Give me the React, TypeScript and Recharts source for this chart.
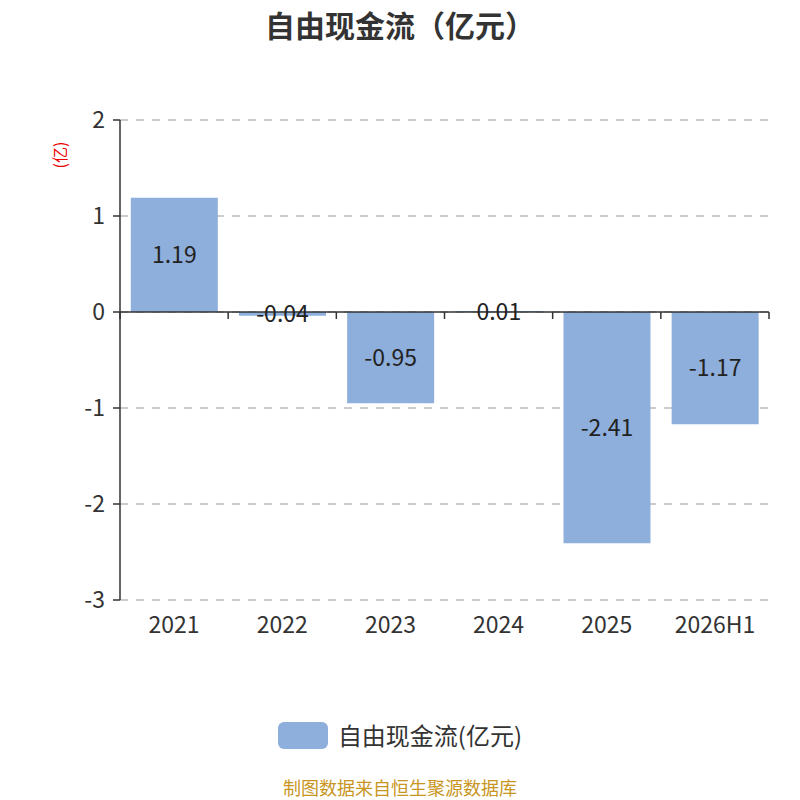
import React from 'react';
import { BarChart, Bar, XAxis, YAxis, CartesianGrid, ReferenceLine, LabelList } from 'recharts';

const categories = ['2021', '2022', '2023', '2024', '2025', '2026H1'];
const cashFlow = [1.19, -0.04, -0.95, 0.01, -2.41, -1.17];
const yTicks = [2, 1, 0, -1, -2, -3];

const seriesName = '自由现金流(亿元)';
const barColor = '#8eaedb';
const font = '"Noto Sans CJK SC", "Noto Sans", sans-serif';

const chartData = categories.map((year, i) => ({ year, value: cashFlow[i] }));

// zero line with small tick marks at category boundaries
const ZeroAxis = (props: any) => {
    const { x1, y1, x2 } = props;
    const n = categories.length;
    const step = (x2 - x1) / n;
    const marks = [];
    for (let i = 0; i <= n; i++) {
        const x = x1 + step * i;
        marks.push(<line key={i} x1={x} y1={y1} x2={x} y2={y1 + 7} stroke="#333" strokeWidth={1.5} />);
    }
    return (
        <g>
            <line x1={x1} y1={y1} x2={x2} y2={y1} stroke="#333" strokeWidth={1.5} />
            {marks}
        </g>
    );
};

export default function App() {
    return (
        <div style={{ position: 'absolute', left: 0, top: 0, width: 800, height: 800, background: '#fff', fontFamily: font }}>
            <div style={{ position: 'absolute', top: 2, left: 0, width: 800, textAlign: 'center', fontSize: 30, fontWeight: 'bold', color: '#333' }}>
                自由现金流（亿元）
            </div>
            <BarChart
                width={800}
                height={800}
                data={chartData}
                margin={{ top: 120, right: 31, bottom: 170, left: 0 }}
                barCategoryGap="10%"
            >
                <CartesianGrid vertical={false} stroke="#ccc" strokeWidth={2} strokeDasharray="8 8" />
                <XAxis
                    dataKey="year"
                    height={30}
                    axisLine={false}
                    tickLine={false}
                    tickMargin={11}
                    tick={{ fill: '#333', fontSize: 23, fontFamily: font }}
                    interval={0}
                />
                <YAxis
                    width={120}
                    domain={[-3, 2]}
                    ticks={yTicks}
                    interval={0}
                    axisLine={{ stroke: '#333', strokeWidth: 1.5 }}
                    tickLine={{ stroke: '#333', strokeWidth: 1.5 }}
                    tickSize={7}
                    tickMargin={8}
                    tick={{ fill: '#333', fontSize: 23, fontFamily: font }}
                    label={{
                        content: (p: any) => {
                            const vb = p.viewBox;
                            const x = vb.x + 59;
                            const y = vb.y + 35;
                            return (
                                <text x={x} y={y} transform={`rotate(-90, ${x}, ${y})`} textAnchor="middle" dominantBaseline="central" fill="#e00" fontSize={16} fontFamily={font}>
                                    (亿)
                                </text>
                            );
                        },
                    }}
                />
                <Bar dataKey="value" name={seriesName} fill={barColor} isAnimationActive={false}>
                    <LabelList dataKey="value" position="center" fill="#222" fontSize={23} fontFamily={font} />
                </Bar>
                <ReferenceLine y={0} shape={ZeroAxis} />
            </BarChart>
            <div style={{ position: 'absolute', top: 720, left: 0, width: 800, display: 'flex', justifyContent: 'center', alignItems: 'center' }}>
                <div style={{ width: 50, height: 27, borderRadius: 6, background: barColor, marginRight: 10 }} />
                <span style={{ fontSize: 24, lineHeight: '30px', color: '#333' }}>{seriesName}</span>
            </div>
            <div style={{ position: 'absolute', top: 776, width: 800, textAlign: 'center', fontSize: 18, lineHeight: '22px', color: '#c8961e' }}>
                制图数据来自恒生聚源数据库
            </div>
        </div>
    );
}
